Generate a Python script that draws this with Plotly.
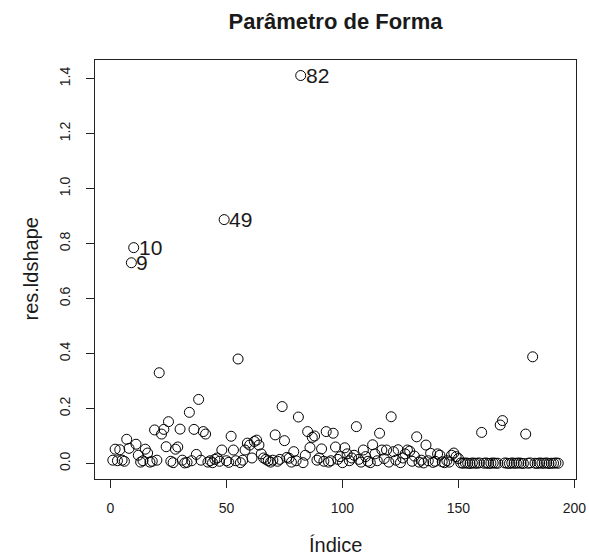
import plotly.graph_objects as go

# Observed values of res.ldshape, index 1..193
values = [
    0.012, 0.052, 0.010, 0.050, 0.012, 0.008, 0.088, 0.055, 0.730, 0.785,
    0.070, 0.030, 0.005, 0.010, 0.052, 0.038, 0.005, 0.008, 0.122, 0.012,
    0.330, 0.107, 0.124, 0.061, 0.152, 0.008, 0.003, 0.052, 0.060, 0.125,
    0.012, 0.002, 0.004, 0.186, 0.010, 0.124, 0.033, 0.233, 0.012, 0.116,
    0.107, 0.005, 0.010, 0.003, 0.015, 0.020, 0.008, 0.049, 0.887, 0.010,
    0.004, 0.099, 0.049, 0.010, 0.380, 0.003, 0.012, 0.049, 0.074, 0.067,
    0.020, 0.080, 0.085, 0.067, 0.035, 0.020, 0.015, 0.010, 0.005, 0.012,
    0.104, 0.008, 0.015, 0.207, 0.083, 0.022, 0.019, 0.005, 0.043, 0.010,
    0.169, 1.411, 0.003, 0.030, 0.116, 0.058, 0.095, 0.100, 0.012, 0.020,
    0.053, 0.008, 0.116, 0.005, 0.010, 0.110, 0.060, 0.015, 0.025, 0.003,
    0.057, 0.035, 0.010, 0.020, 0.030, 0.134, 0.015, 0.005, 0.049, 0.025,
    0.008, 0.003, 0.068, 0.035, 0.010, 0.110, 0.049, 0.018, 0.049, 0.005,
    0.170, 0.043, 0.012, 0.050, 0.003, 0.020, 0.035, 0.049, 0.045, 0.008,
    0.027, 0.097, 0.005, 0.012, 0.002, 0.067, 0.010, 0.037, 0.004, 0.008,
    0.035, 0.030, 0.006, 0.003, 0.010, 0.005, 0.030, 0.038, 0.025, 0.018,
    0.002, 0.001, 0.002, 0.001, 0.000, 0.002, 0.001, 0.001, 0.002, 0.113,
    0.001, 0.002, 0.000, 0.001, 0.002, 0.001, 0.001, 0.140, 0.156, 0.002,
    0.001, 0.000, 0.002, 0.001, 0.001, 0.002, 0.001, 0.000, 0.107, 0.001,
    0.002, 0.388, 0.001, 0.000, 0.002, 0.001, 0.001, 0.002, 0.000, 0.001,
    0.001, 0.002, 0.001,
]
index = list(range(1, len(values) + 1))

labelled = [9, 10, 49, 82]
x_ticks = [0, 50, 100, 150, 200]
y_ticks = [0.0, 0.2, 0.4, 0.6, 0.8, 1.0, 1.2, 1.4]

font_family = "Liberation Sans, Arial, Helvetica, sans-serif"
text_color = "#1a1a1a"

n = len(values)
xpad = 0.04 * (n - 1)
ymin, ymax = min(values), max(values)
ypad = 0.04 * (ymax - ymin)

W, H = 589, 558
L, R, T, B = 95, 13, 60, 79
pw, ph = W - L - R, H - T - B

fig = go.Figure()
fig.add_trace(go.Scatter(
    x=index, y=values, mode="markers",
    marker=dict(symbol="circle-open", size=10, color="black", line=dict(width=1)),
    showlegend=False, hoverinfo="x+y",
))

for i in labelled:
    fig.add_annotation(
        x=i, y=values[i - 1], text=str(i), showarrow=False,
        xanchor="left", yanchor="middle", xshift=3, yshift=0,
        font=dict(family=font_family, size=21, color=text_color),
    )

# axis titles (R places them on fixed margin lines)
fig.add_annotation(
    text="Índice", xref="paper", yref="paper", x=0.5, y=-(545 - (T + ph)) / ph,
    xanchor="center", yanchor="middle", showarrow=False,
    font=dict(family=font_family, size=20, color=text_color),
)
fig.add_annotation(
    text="res.ldshape", xref="paper", yref="paper", x=-(L - 30) / pw, y=0.5,
    xanchor="center", yanchor="middle", textangle=-90, showarrow=False,
    font=dict(family=font_family, size=20, color=text_color),
)

fig.update_layout(
    width=W, height=H,
    margin=dict(l=L, r=R, t=T, b=B),
    paper_bgcolor="white", plot_bgcolor="white",
    title=dict(text="<b>Parâmetro de Forma</b>", x=(L + W - R) / 2 / W, xanchor="center",
               y=1 - 21 / H, yanchor="middle",
               font=dict(family=font_family, size=22, color=text_color)),
    font=dict(family=font_family, color=text_color),
)
fig.update_xaxes(
    range=[1 - xpad, n + xpad], tickvals=x_ticks, ticktext=[str(t) for t in x_ticks],
    showgrid=False, zeroline=False, showline=True, mirror=True, linecolor="#222", linewidth=1,
    ticks="outside", ticklen=8, tickcolor="#222", tickfont=dict(size=14, family=font_family),
    ticklabelstandoff=8, automargin=False,
)
fig.update_yaxes(
    range=[ymin - ypad, ymax + ypad], tickvals=y_ticks, ticktext=[f"{t:.1f}" for t in y_ticks],
    tickangle=-90,
    showgrid=False, zeroline=False, showline=True, mirror=True, linecolor="#222", linewidth=1,
    ticks="outside", ticklen=8, tickcolor="#222", tickfont=dict(size=14, family=font_family),
    ticklabelstandoff=10, automargin=False,
)

fig.write_html("out.html")
